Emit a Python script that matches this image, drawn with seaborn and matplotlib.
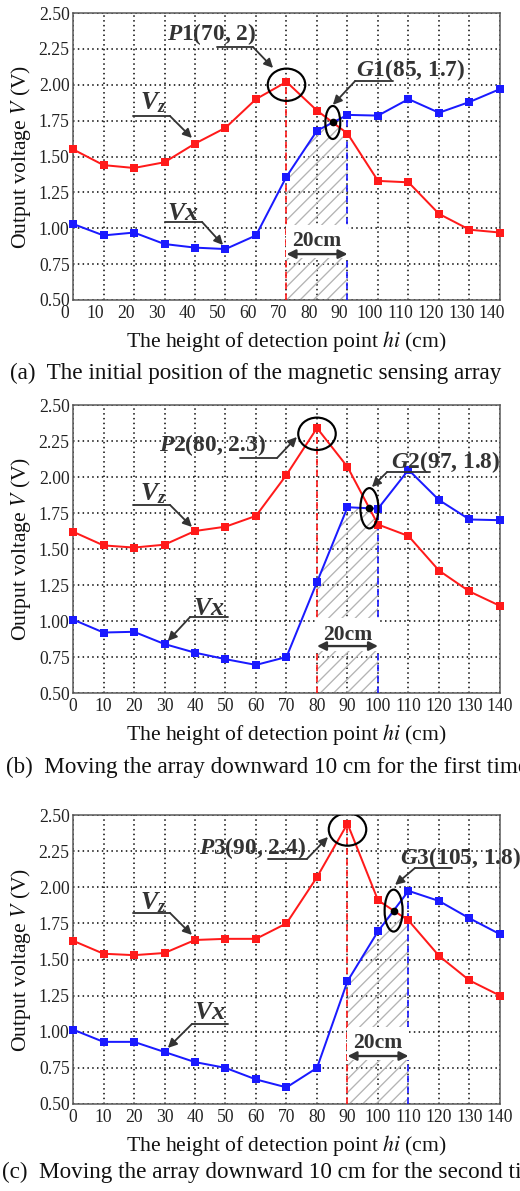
import numpy as np
import matplotlib
matplotlib.use("Agg")
import matplotlib.pyplot as plt
import matplotlib.transforms as mtransforms
from matplotlib.patches import Ellipse
import seaborn as sns

sns.set_style("white")
plt.rcParams['font.family'] = ['Liberation Serif', 'DejaVu Serif']
plt.rcParams['mathtext.fontset'] = 'custom'
plt.rcParams['mathtext.it'] = 'Liberation Serif:italic:bold'
plt.rcParams['mathtext.rm'] = 'Liberation Serif:bold'
plt.rcParams['mathtext.bf'] = 'Liberation Serif:bold'
plt.rcParams['hatch.linewidth'] = 0.8

# ---- data ----
heights = [0, 10, 20, 30, 40, 50, 60, 70, 80, 90, 100, 110, 120, 130, 140]

vz_a = [1.55, 1.44, 1.42, 1.46, 1.59, 1.70, 1.90, 2.02, 1.82, 1.66, 1.33, 1.32, 1.10, 0.99, 0.97]
vx_a = [1.03, 0.95, 0.97, 0.89, 0.865, 0.855, 0.95, 1.36, 1.68, 1.79, 1.785, 1.90, 1.805, 1.88, 1.97]

vz_b = [1.62, 1.525, 1.51, 1.53, 1.625, 1.655, 1.73, 2.015, 2.34, 2.07, 1.67, 1.59, 1.35, 1.205, 1.105]
vx_b = [1.01, 0.92, 0.925, 0.84, 0.78, 0.735, 0.695, 0.75, 1.27, 1.79, 1.78, 2.05, 1.84, 1.705, 1.70]

vz_c = [1.63, 1.54, 1.53, 1.545, 1.635, 1.643, 1.643, 1.75, 2.07, 2.44, 1.91, 1.77, 1.525, 1.355, 1.25]
vx_c = [1.015, 0.93, 0.93, 0.86, 0.79, 0.75, 0.67, 0.615, 0.75, 1.35, 1.695, 1.975, 1.905, 1.785, 1.675]

peak_x = [70, 80, 90]
span = 20
p_labels = ["$P$1(70, 2)", "$P$2(80, 2.3)", "$P$3(90, 2.4)"]
g_labels = ["$G$1(85, 1.7)", "$G$2(97, 1.8)", "$G$3(105, 1.8)"]
captions = [
    "(a)  The initial position of the magnetic sensing array",
    "(b)  Moving the array downward 10 cm for the first time",
    "(c)  Moving the array downward 10 cm for the second time",
]
y_ticks = [0.5, 0.75, 1.0, 1.25, 1.5, 1.75, 2.0, 2.25, 2.5]
x_ticks = heights

# ---- layout (figure pixels / data positions of callouts) ----
W, H, DPI = 520, 1191, 120
axes_px = [(73, 13, 500, 300), (73, 405, 500, 693), (73, 815, 500, 1104)]
caption_y = [373, 767, 1172]
caption_x = [10, 6, 2]

# callout: (text_xy, line_x0, line_x1, line_y, tip, start_at_left)
p_call = [((45.6, 2.35), 47.2, 59.0, 2.263, (65.6, 2.117), False),
          ((45.6, 2.222), 54.8, 66.9, 2.132, (73.4, 2.278), False),
          ((58.7, 2.272), 63.9, 76.7, 2.196, (83.6, 2.348), False)]
g_call = [((110.8, 2.103), 92.5, 104.9, 2.026, (85.2, 1.86), True),
          ((122.3, 2.104), 103.0, 117.0, 2.035, (98.0, 1.93), True),
          ((126.9, 2.205), 112.1, 124.3, 2.133, (105.6, 2.016), True)]
vz_call = [((26.2, 1.873), 19.7, 31.8, 1.782, (39.0, 1.629), False),
           ((26.2, 1.882), 19.7, 31.8, 1.806, (39.0, 1.653), False),
           ((26.2, 1.891), 19.7, 31.8, 1.822, (39.0, 1.67), False)]
vx_call = [((36.1, 1.106), 30.2, 42.3, 1.044, (49.2, 0.883), False),
           ((44.6, 1.09), 38.4, 50.8, 1.028, (31.1, 0.861), True),
           ((44.9, 1.13), 39.0, 50.8, 1.054, (31.1, 0.888), True)]
p_ell = [(70, 2.0), (80, 2.30), (90, 2.40)]
g_ell_size = [(4.9, 0.23), (5.9, 0.28), (5.9, 0.29)]
cm_y = [(0.911, 0.82), (0.903, 0.826), (0.922, 0.832)]

INK = '#333333'
RED = '#ff1a1a'
BLUE = '#1a1aff'


def crossing(x, a, b, lo, hi):
    x = np.asarray(x, float); a = np.asarray(a, float); b = np.asarray(b, float)
    d = a - b
    for i in range(len(x) - 1):
        if lo <= x[i] < hi and d[i] * d[i + 1] < 0:
            t = d[i] / (d[i] - d[i + 1])
            return x[i] + t * (x[i + 1] - x[i]), a[i] + t * (a[i + 1] - a[i])
    return None


def callout(ax, text, spec, size=14):
    (tx, ty), x0, x1, ly, tip, left = spec
    ax.text(tx, ty, text, ha='center', va='center', fontsize=size,
            fontweight='bold', color=INK, zorder=6)
    ax.plot([x0, x1], [ly, ly], color=INK, lw=1.1, zorder=6, clip_on=False)
    start = (x0, ly) if left else (x1, ly)
    ax.annotate('', xy=tip, xytext=start, annotation_clip=False,
                arrowprops=dict(arrowstyle='-|>', color=INK, lw=1.1,
                                mutation_scale=11, shrinkA=0, shrinkB=0),
                zorder=6)


fig = plt.figure(figsize=(W / DPI, H / DPI), dpi=DPI)
series = [(vz_a, vx_a), (vz_b, vx_b), (vz_c, vx_c)]

for k, (vz, vx) in enumerate(series):
    l, t, r, b = axes_px[k]
    ax = fig.add_axes([l / W, 1 - b / H, (r - l) / W, (b - t) / H])
    ax.set_xlim(0, 140)
    ax.set_ylim(0.5, 2.5)
    ax.set_xticks(x_ticks)
    ax.set_yticks(y_ticks)
    ax.yaxis.set_major_formatter(matplotlib.ticker.FormatStrFormatter('%.2f'))
    ax.tick_params(length=0, labelsize=10.6, colors='#222222', pad=3)
    ax.tick_params(axis='y', pad=2)
    ax.grid(True, color='black', linestyle=(0, (1, 2.2)), linewidth=0.9)
    ax.set_axisbelow(True)
    for s in ax.spines.values():
        s.set_color('#555555')
        s.set_linewidth(0.9)

    # hatched 20 cm band under the lower of the two curves
    x0, x1 = peak_x[k], peak_x[k] + span
    cr = crossing(heights, vz, vx, x0, x1)
    xs = [h for h in heights if x0 <= h <= x1]
    if cr is not None:
        xs.append(cr[0])
    xs = np.sort(xs)
    top = np.minimum(np.interp(xs, heights, vz), np.interp(xs, heights, vx))
    ax.fill_between(xs, 0.5, top, facecolor='none', edgecolor='#b4b4b4',
                    linewidth=0, hatch='///', zorder=1)

    # dashed guide lines
    ax.plot([x0, x0], [0.5, np.interp(x0, heights, vz)], color=RED,
            linestyle=(0, (4, 2.5)), lw=1.0, zorder=3)
    ax.plot([x1, x1], [0.5, np.interp(x1, heights, vx)], color=BLUE,
            linestyle=(0, (4, 2.5)), lw=1.0, zorder=3)

    sns.lineplot(x=heights, y=vz, ax=ax, color=RED, marker='s', markersize=4.6,
                 markeredgewidth=0, linewidth=1.2, zorder=4, clip_on=False)
    sns.lineplot(x=heights, y=vx, ax=ax, color=BLUE, marker='s', markersize=4.6,
                 markeredgewidth=0, linewidth=1.2, zorder=4, clip_on=False)

    # peak and crossing marks
    ax.add_patch(Ellipse(p_ell[k], 12.3, 0.225, fill=False, ec='black', lw=1.3, zorder=5))
    if cr is not None:
        gw, gh = g_ell_size[k]
        ax.add_patch(Ellipse(cr, gw, gh, fill=False, ec='black', lw=1.3, zorder=5))
        ax.plot([cr[0]], [cr[1]], 'o', color='black', ms=3.6, zorder=6)

    callout(ax, p_labels[k], p_call[k])
    callout(ax, g_labels[k], g_call[k])
    callout(ax, "$V_z$", vz_call[k], size=15.5)
    callout(ax, "$Vx$", vx_call[k], size=15.5)

    # 20 cm width marker
    ty, ay = cm_y[k]
    ax.text((x0 + x1) / 2, ty, "20cm", ha='center', va='center', fontsize=13,
            fontweight='bold', color=INK, zorder=5,
            bbox=dict(boxstyle='square,pad=0.3', fc='white', ec='none'))
    ax.annotate('', xy=(x1, ay), xytext=(x0, ay),
                arrowprops=dict(arrowstyle='<|-|>', color=INK, lw=1.4,
                                mutation_scale=11, shrinkA=0, shrinkB=0),
                zorder=6)

    ax.set_xlabel("The height of detection point $hi$ (cm)", fontsize=13,
                  color='#111111', math_fontfamily='stix')
    ax.xaxis.set_label_coords(0.5, -29 / (b - t))
    ax.set_ylabel("Output voltage $V$ (V)", fontsize=13, color='#111111',
                  math_fontfamily='stix')
    ax.yaxis.set_label_coords(-40 / (r - l), 0.5)

    if k == 0:
        # tick labels of the first panel sit a little to the left of the grid
        off = mtransforms.ScaledTranslation(-8 / DPI, 0, fig.dpi_scale_trans)
        for lab in ax.get_xticklabels():
            lab.set_transform(lab.get_transform() + off)

    fig.text(caption_x[k] / W, 1 - caption_y[k] / H, captions[k], fontsize=13.9,
             ha='left', va='center', color='#111111')

fig.savefig("out.png", dpi=DPI)
